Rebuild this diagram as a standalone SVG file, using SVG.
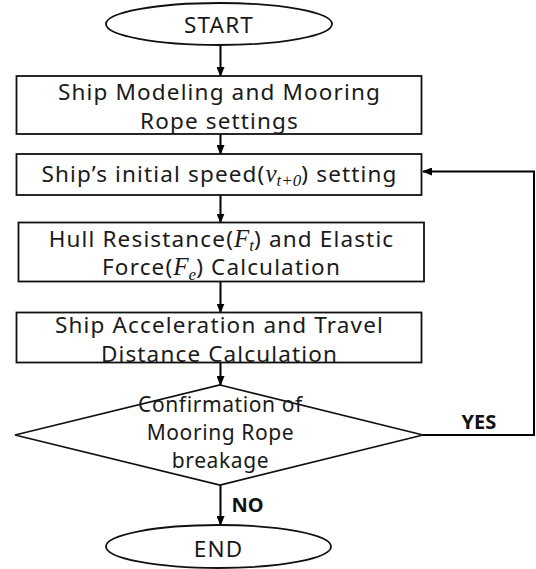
<svg xmlns="http://www.w3.org/2000/svg" width="536" height="569" viewBox="0 0 536 569">
<style>
.shape{fill:#fff;stroke:#111;stroke-width:1.8}
.t{font-family:"Noto Sans","Open Sans",sans-serif;font-size:22.5px;letter-spacing:1.15px;fill:#1a1a1a;text-anchor:middle}
.d{font-size:21px;letter-spacing:0.6px}
.m{font-family:"Liberation Serif","DejaVu Serif",serif;font-style:italic;font-size:25px;letter-spacing:0}
.s{font-size:17px}
.lbl{font-family:"Noto Sans","Open Sans",sans-serif;font-size:20px;font-weight:bold;fill:#111}
.c{fill:none;stroke:#000;stroke-width:2}
</style>
<defs>
<marker id="ah" markerWidth="10" markerHeight="8" refX="9" refY="4" orient="auto" markerUnits="userSpaceOnUse">
<path d="M0,0 L10,4 L0,8 Z" fill="#000"/>
</marker>
</defs>
<g id="connectors">
<line class="c" x1="220.5" y1="45" x2="220.5" y2="76" marker-end="url(#ah)"/>
<line class="c" x1="220.5" y1="134" x2="220.5" y2="154" marker-end="url(#ah)"/>
<line class="c" x1="220.5" y1="195" x2="220.5" y2="222.5" marker-end="url(#ah)"/>
<line class="c" x1="220.5" y1="281.5" x2="220.5" y2="312.5" marker-end="url(#ah)"/>
<line class="c" x1="220.5" y1="362.5" x2="220.5" y2="385" marker-end="url(#ah)"/>
<line class="c" x1="220.5" y1="485" x2="220.5" y2="525" marker-end="url(#ah)"/>
<polyline class="c" points="423,435 534,435 534,171.5 423,171.5" marker-end="url(#ah)"/>
<text class="lbl" x="461.5" y="429.3">YES</text>
<text class="lbl" x="231.5" y="511.7">NO</text>
</g>
<g id="start">
<ellipse class="shape" cx="219" cy="24" rx="113" ry="21"/>
<text class="t" x="219" y="33.3">START</text>
</g>
<g id="model">
<rect class="shape" x="16.5" y="76" width="405" height="58"/>
<text class="t" x="219.5" y="100">Ship Modeling and Mooring</text>
<text class="t" x="219.5" y="128.5">Rope settings</text>
</g>
<g id="speed">
<rect class="shape" x="16.5" y="154" width="405" height="41"/>
<text class="t" x="219.5" y="181.7">Ship’s initial speed(<tspan class="m">v</tspan><tspan class="m s" dy="4.5">t+0</tspan><tspan dy="-4.5">) setting</tspan></text>
</g>
<g id="force">
<rect class="shape" x="18.5" y="222.5" width="405.5" height="59"/>
<text class="t" x="221.5" y="246.7">Hull Resistance(<tspan class="m">F</tspan><tspan class="m s" dy="4.5">t</tspan><tspan dy="-4.5">) and Elastic</tspan></text>
<text class="t" x="221.5" y="275">Force(<tspan class="m">F</tspan><tspan class="m s" dy="4.5">e</tspan><tspan dy="-4.5">) Calculation</tspan></text>
</g>
<g id="accel">
<rect class="shape" x="16.5" y="312.5" width="405" height="50"/>
<text class="t" x="219.5" y="332.7">Ship Acceleration and Travel</text>
<text class="t" x="219.5" y="361.7">Distance Calculation</text>
</g>
<g id="check">
<polygon class="shape" points="220,385 423,435 220,485 15,435"/>
<text class="t d" x="220.5" y="411.5">Confirmation of</text>
<text class="t d" x="220.5" y="440">Mooring Rope</text>
<text class="t d" x="220.5" y="468">breakage</text>
</g>
<g id="end">
<ellipse class="shape" cx="218.5" cy="546.5" rx="112.5" ry="21.5"/>
<text class="t" x="218.5" y="556.7">END</text>
</g>
</svg>
